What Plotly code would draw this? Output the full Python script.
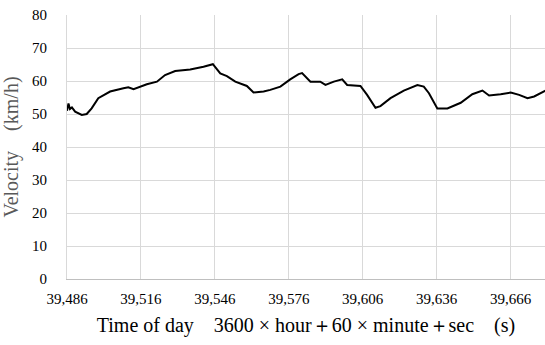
import plotly.graph_objects as go

time_s = [39486.0, 39486.6, 39487.2, 39488.0, 39489.3, 39492.0, 39494.0, 39496.0, 39498.7,
          39503.5, 39508.9, 39510.9, 39513.0, 39518.4, 39522.5, 39525.8, 39529.9,
          39536.0, 39541.4, 39545.2, 39548.2, 39550.9, 39554.3, 39557.0, 39559.0,
          39561.7, 39565.8, 39568.5, 39572.6, 39576.6, 39580.0, 39581.4, 39584.8,
          39588.8, 39590.9, 39594.3, 39597.7, 39599.7, 39605.1, 39607.8, 39611.2,
          39613.2, 39617.3, 39622.7, 39628.2, 39630.8, 39632.9, 39636.3, 39640.4,
          39645.8, 39650.5, 39654.6, 39657.3, 39662.0, 39666.1, 39669.5, 39672.9,
          39675.6, 39680.3]
velocity = [51.0, 53.2, 51.5, 52.0, 50.7, 49.7, 50.0, 51.7, 54.8,
            56.8, 57.8, 58.1, 57.5, 59.0, 59.8, 61.8, 63.0,
            63.5, 64.3, 65.1, 62.3, 61.5, 59.8, 59.0, 58.5,
            56.5, 56.8, 57.3, 58.3, 60.5, 62.1, 62.4, 59.8,
            59.8, 58.8, 59.8, 60.5, 58.8, 58.5, 55.8, 51.9,
            52.4, 54.8, 57.1, 58.8, 58.3, 56.3, 51.7, 51.7,
            53.4, 56.0, 57.1, 55.6, 56.0, 56.5, 55.8, 54.8,
            55.3, 57.1]
x_ticks = [39486, 39516, 39546, 39576, 39606, 39636, 39666]
y_ticks = [0, 10, 20, 30, 40, 50, 60, 70, 80]

fig = go.Figure(go.Scatter(x=time_s, y=velocity, mode="lines",
                           line=dict(color="black", width=2), showlegend=False))

serif = "Times New Roman, Liberation Serif, serif"
fig.update_layout(
    width=545, height=345,
    margin=dict(l=67, r=0, t=15, b=66),
    plot_bgcolor="white", paper_bgcolor="white",
    separators=".,",
    font=dict(family=serif, size=14, color="black"),
)
fig.update_xaxes(
    range=[39486, 39680], tickvals=x_ticks, tickformat=",d",
    showgrid=True, gridcolor="#d9d9d9", gridwidth=1,
    showline=True, linecolor="#bfbfbf", linewidth=1,
    ticks="", ticklabelstandoff=6, zeroline=False,
    tickfont=dict(family=serif, size=15, color="black"),
    title=dict(text="Time of day　3600 × hour＋60 × minute＋sec　(s)",
               font=dict(family=serif, size=20, color="black"), standoff=11),
)
fig.update_yaxes(
    range=[0, 80], tickvals=y_ticks,
    showgrid=True, gridcolor="#d9d9d9", gridwidth=1,
    showline=True, linecolor="#d9d9d9", linewidth=1,
    ticks="", ticklabelstandoff=16, zeroline=False,
    tickfont=dict(family=serif, size=15, color="black"),
    title=dict(text="Velocity　(km/h)", font=dict(family=serif, size=20, color="#595959"), standoff=9),
)
fig.write_html("out.html")
